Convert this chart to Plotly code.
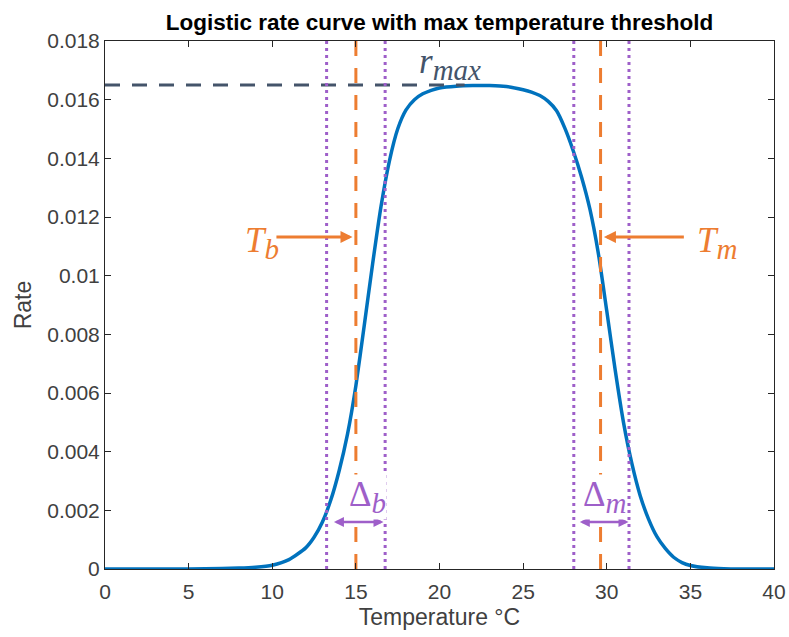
import plotly.graph_objects as go

# ---- data ----
temperature = [0, 2, 4, 6, 8, 9, 10, 11, 12, 12.5, 13, 13.5, 14, 14.5, 15, 15.5, 16, 16.5,
               17, 17.5, 18, 18.5, 19, 19.5, 20, 21, 22, 23, 24, 25, 25.5, 26, 26.5, 27,
               27.5, 28, 28.5, 29, 29.5, 30, 30.5, 31, 31.5, 32, 32.5, 33, 33.5, 34, 34.5,
               35, 36, 37, 38, 40]
rate = [0, 0, 0, 0.00001, 0.00003, 0.00006, 0.00013, 0.00032, 0.00072, 0.00108, 0.00160,
        0.00235, 0.00335, 0.00460, 0.00625, 0.00830, 0.01040, 0.01235, 0.01390, 0.01500,
        0.01565, 0.01600, 0.01620, 0.01632, 0.01640, 0.01646, 0.01648, 0.01648, 0.01645,
        0.01634, 0.01626, 0.01614, 0.01594, 0.01562, 0.01502, 0.01425, 0.01335, 0.01225,
        0.01075, 0.00880, 0.00680, 0.00500, 0.00360, 0.00250, 0.00170, 0.00110, 0.00070,
        0.00040, 0.00022, 0.00012, 0.00004, 0.00001, 0, 0]

r_max = 0.0165
r_max_line_x = [0, 21.5]
T_b = 15.0
T_m = 29.63
delta_b_bounds = [13.25, 16.75]
delta_m_bounds = [28.03, 31.33]
delta_b_arrow = [13.6, 16.65]
delta_m_arrow = [28.3, 31.3]
x_ticks = [0, 5, 10, 15, 20, 25, 30, 35, 40]
x_tick_labels = ["0", "5", "10", "15", "20", "25", "30", "35", "40"]
y_ticks = [0, 0.002, 0.004, 0.006, 0.008, 0.010, 0.012, 0.014, 0.016, 0.018]
y_tick_labels = ["0", "0.002", "0.004", "0.006", "0.008", "0.01", "0.012", "0.014", "0.016", "0.018"]
y_top = 0.018

BLUE = "#0072BD"
ORANGE = "#ED7D31"
PURPLE = "#9E5FC9"
SLATE = "#44546A"
AXIS = "#262626"
TICKTXT = "#404040"
MATH_FONT = "Liberation Serif"

fig = go.Figure()

fig.add_trace(go.Scatter(x=temperature, y=rate, mode="lines",
                         line=dict(color=BLUE, width=3.5, shape="spline", smoothing=0.6),
                         hoverinfo="skip"))

fig.add_trace(go.Scatter(x=r_max_line_x, y=[r_max, r_max], mode="lines",
                         line=dict(color=SLATE, width=3, dash="15px,12px"), hoverinfo="skip"))

for xv in delta_b_bounds + delta_m_bounds:
    fig.add_trace(go.Scatter(x=[xv, xv], y=[0, y_top], mode="lines",
                             line=dict(color=PURPLE, width=3, dash="3px,4px"), hoverinfo="skip"))

for xv in [T_b, T_m]:
    fig.add_trace(go.Scatter(x=[xv, xv], y=[0, y_top], mode="lines",
                             line=dict(color=ORANGE, width=3, dash="15px,12px"), hoverinfo="skip"))

annotations = []
arrow_y = 0.01132
# T_b arrow (pointing right)
annotations.append(dict(x=T_b - 0.2, y=arrow_y, ax=10.16, ay=arrow_y, xref="x", yref="y",
                        axref="x", ayref="y", text="", showarrow=True, arrowhead=2,
                        arrowsize=0.8, arrowwidth=3, arrowcolor=ORANGE))
# T_m arrow (pointing left)
annotations.append(dict(x=T_m + 0.2, y=arrow_y, ax=34.7, ay=arrow_y, xref="x", yref="y",
                        axref="x", ayref="y", text="", showarrow=True, arrowhead=2,
                        arrowsize=0.8, arrowwidth=3, arrowcolor=ORANGE))
# delta arrows (double headed)
dy = 0.00160
for a in [delta_b_arrow, delta_m_arrow]:
    annotations.append(dict(x=a[1], y=dy, ax=a[0], ay=dy, xref="x", yref="y",
                            axref="x", ayref="y", text="", showarrow=True, arrowhead=2,
                            startarrowhead=2, arrowside="end+start", arrowsize=0.8,
                            startarrowsize=0.8, arrowwidth=2.5, arrowcolor=PURPLE))

def label(x, y, txt, color, bg=None):
    d = dict(x=x, y=y, xref="x", yref="y", text=txt, showarrow=False,
             xanchor="center", yanchor="middle",
             font=dict(family=MATH_FONT, size=35, color=color))
    if bg:
        d["bgcolor"] = bg
        d["borderpad"] = 0
    return d

SUB = '<span style="font-size:29px">%s</span>'
annotations.append(label(9.4, 0.0111, '<i>T<sub>' + SUB % 'b' + '</sub></i>', ORANGE))
annotations.append(label(36.6, 0.0111, '<i>T<sub>' + SUB % 'm' + '</sub></i>', ORANGE))
annotations.append(label(15.7, 0.00245, 'Δ<sub><i>' + SUB % 'b' + '</i></sub>', PURPLE, "white"))
annotations.append(label(29.85, 0.00245, 'Δ<sub><i>' + SUB % 'm' + '</i></sub>', PURPLE, "white"))
annotations.append(label(20.6, 0.0172, '<i>r<sub>' + SUB % 'max' + '</sub></i>', SLATE))

fig.update_layout(
    width=789, height=637,
    margin=dict(l=105, r=15, t=41, b=68, autoexpand=False),
    plot_bgcolor="white", paper_bgcolor="white",
    showlegend=False,
    title=dict(text="<b>Logistic rate curve with max temperature threshold</b>",
               x=0.5, xref="paper", xanchor="center",
               y=1 - 22 / 637, yref="container", yanchor="middle",
               font=dict(family="Liberation Sans", size=22.5, color="black")),
    xaxis=dict(range=[0, 40], tickvals=x_ticks, ticktext=x_tick_labels,
               ticks="inside", ticklen=6, automargin=False,
               tickcolor=AXIS, tickwidth=1, showline=True, mirror="ticks",
               linecolor=AXIS, linewidth=1, showgrid=False, zeroline=False,
               ticklabelstandoff=4,
               tickfont=dict(family="Liberation Sans", size=21, color=TICKTXT),
               title=dict(text="Temperature °C", standoff=6,
                          font=dict(family="Liberation Sans", size=23, color=TICKTXT))),
    yaxis=dict(range=[0, y_top], tickvals=y_ticks, ticktext=y_tick_labels,
               ticks="inside", ticklen=6, tickcolor=AXIS, tickwidth=1, automargin=False,
               showline=True, mirror="ticks", linecolor=AXIS, linewidth=1,
               showgrid=False, zeroline=False,
               tickfont=dict(family="Liberation Sans", size=21, color=TICKTXT),
               title=dict(text="Rate", standoff=9,
                          font=dict(family="Liberation Sans", size=23, color=TICKTXT))),
    annotations=annotations,
)

fig.write_html("out.html")
